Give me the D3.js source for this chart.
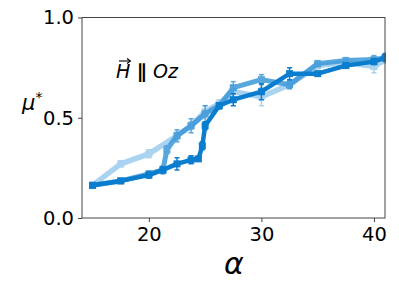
<!DOCTYPE html>
<html><head><meta charset="utf-8">
<script src="https://cdn.jsdelivr.net/npm/d3@7"></script>
<style>body{margin:0;background:#fff}svg{display:block}text{font-family:"DejaVu Sans",sans-serif}</style>
</head><body>
<svg id="c" width="399" height="290"></svg>
<script>
const xTicks = [20, 30, 40];
const yTicks = [0.0, 0.5, 1.0];

const lightX = [15, 17.5, 20, 22.5, 23.75, 25, 26.25, 27.5, 30, 32.5, 35, 37.5, 40, 41];
const lightY = [0.163, 0.27, 0.32, 0.41, 0.46, 0.53, 0.57, 0.63, 0.605, 0.665, 0.76, 0.775, 0.755, 0.79];
const lightE = [0.01, 0.015, 0.02, 0.02, 0.02, 0.03, 0.02, 0.03, 0.045, 0.02, 0.015, 0.015, 0.03, 0.02];

const medX = [15, 17.5, 20, 21.25, 21.6, 22.5, 23.75, 25, 26.25, 27.5, 30, 32.5, 35, 37.5, 40, 41];
const medY = [0.163, 0.185, 0.22, 0.24, 0.34, 0.41, 0.46, 0.52, 0.56, 0.65, 0.69, 0.665, 0.77, 0.785, 0.79, 0.80];
const medE = [0.01, 0.01, 0.015, 0.02, 0.02, 0.03, 0.035, 0.04, 0.015, 0.03, 0.025, 0.02, 0.015, 0.015, 0.02, 0.015];

const darkX = [15, 17.5, 20, 21.25, 22.5, 23.75, 24.4, 24.75, 25, 26.25, 27.5, 30, 32.5, 35, 37.5, 40, 41];
const darkY = [0.163, 0.185, 0.214, 0.24, 0.27, 0.29, 0.295, 0.36, 0.46, 0.56, 0.59, 0.63, 0.72, 0.72, 0.76, 0.78, 0.80];
const darkE = [0.01, 0.01, 0.015, 0.015, 0.03, 0.02, 0.01, 0.02, 0.02, 0.015, 0.03, 0.04, 0.03, 0.01, 0.01, 0.015, 0.02];

const series = [
  {name: "light", xs: lightX, ys: lightY, es: lightE, color: "#a9d3f0", width: 5.5, opacity: 1},
  {name: "medium", xs: medX, ys: medY, es: medE, color: "#3b98d8", width: 5, opacity: 0.85},
  {name: "dark", xs: darkX, ys: darkY, es: darkE, color: "#0a7dcf", width: 4.5, opacity: 1}
];

const L = 82, R = 385, T = 17.5, B = 218;
const svg = d3.select("#c");
const x = d3.scaleLinear().domain([14.06, 40.98]).range([L, R]);
const y = d3.scaleLinear().domain([0, 1]).range([B, T]);

const defs = svg.append("defs");
defs.append("clipPath").attr("id", "clip").append("rect")
  .attr("x", L).attr("y", T - 10).attr("width", R - L + 1).attr("height", B - T + 20);

const plot = svg.append("g").attr("clip-path", "url(#clip)");
const line = d3.line().x(d => x(d[0])).y(d => y(d[1]));

series.forEach(s => {
  const data = s.xs.map((v, i) => [v, s.ys[i], s.es[i]]);
  const g = plot.append("g").attr("opacity", s.opacity);
  g.append("path").datum(data).attr("d", line).attr("fill", "none")
    .attr("stroke", s.color).attr("stroke-width", s.width).attr("stroke-linejoin", "round");
  g.selectAll("line.eb").data(data).join("line").attr("class", "eb")
    .attr("x1", d => x(d[0])).attr("x2", d => x(d[0]))
    .attr("y1", d => y(d[1] - d[2])).attr("y2", d => y(d[1] + d[2]))
    .attr("stroke", s.color).attr("stroke-width", 1.5);
  ["lo", "hi"].forEach(k => {
    g.selectAll("line.cap" + k).data(data).join("line").attr("class", "cap" + k)
      .attr("x1", d => x(d[0]) - 2.5).attr("x2", d => x(d[0]) + 2.5)
      .attr("y1", d => y(k === "lo" ? d[1] - d[2] : d[1] + d[2]))
      .attr("y2", d => y(k === "lo" ? d[1] - d[2] : d[1] + d[2]))
      .attr("stroke", s.color).attr("stroke-width", 1.5);
  });
  g.selectAll("rect.m").data(data).join("rect").attr("class", "m")
    .attr("x", d => x(d[0]) - 3.5).attr("y", d => y(d[1]) - 3.5)
    .attr("width", 7).attr("height", 7).attr("fill", s.color);
});

// frame
svg.append("rect").attr("x", L).attr("y", T).attr("width", R - L).attr("height", B - T)
  .attr("fill", "none").attr("stroke", "#444").attr("stroke-width", 1);

const xAxis = svg.append("g").attr("transform", `translate(0,${B})`)
  .call(d3.axisBottom(x).tickValues(xTicks).tickSize(4).tickPadding(5).tickFormat(d3.format("d")));
const yAxis = svg.append("g").attr("transform", `translate(${L},0)`)
  .call(d3.axisLeft(y).tickValues(yTicks).tickSize(4).tickPadding(4).tickFormat(d3.format(".1f")));
[xAxis, yAxis].forEach(a => {
  a.select(".domain").remove();
  a.selectAll(".tick line").attr("stroke", "#444");
  a.selectAll("text").attr("font-size", 19.5).attr("fill", "#000").attr("font-family", "DejaVu Sans");
});

// axis labels
svg.append("text").attr("x", 234).attr("y", 274).attr("text-anchor", "middle")
  .attr("font-size", 30).attr("font-style", "italic").text("α");
const mu = svg.append("text").attr("x", 22).attr("y", 110).attr("font-size", 21).attr("font-style", "italic");
mu.append("tspan").text("μ");
mu.append("tspan").attr("dy", -8).attr("font-size", 14).attr("font-style", "normal").text("*");

// annotation
const ann = svg.append("text").attr("x", 116).attr("y", 78).attr("font-size", 19).attr("font-style", "italic");
ann.append("tspan").text("H");
ann.append("tspan").attr("font-style", "normal").attr("font-weight", "bold").text(" ∥ ");
ann.append("tspan").text("Oz");
// arrow over H
const ax0 = 119, ax1 = 130, ay = 61;
svg.append("line").attr("x1", ax0).attr("x2", ax1).attr("y1", ay).attr("y2", ay).attr("stroke", "#000").attr("stroke-width", 1.1);
svg.append("path").attr("d", `M${ax1-3},${ay-2.5} L${ax1+0.5},${ay} L${ax1-3},${ay+2.5}`).attr("fill", "none").attr("stroke", "#000").attr("stroke-width", 1.1);
</script>
</body></html>
